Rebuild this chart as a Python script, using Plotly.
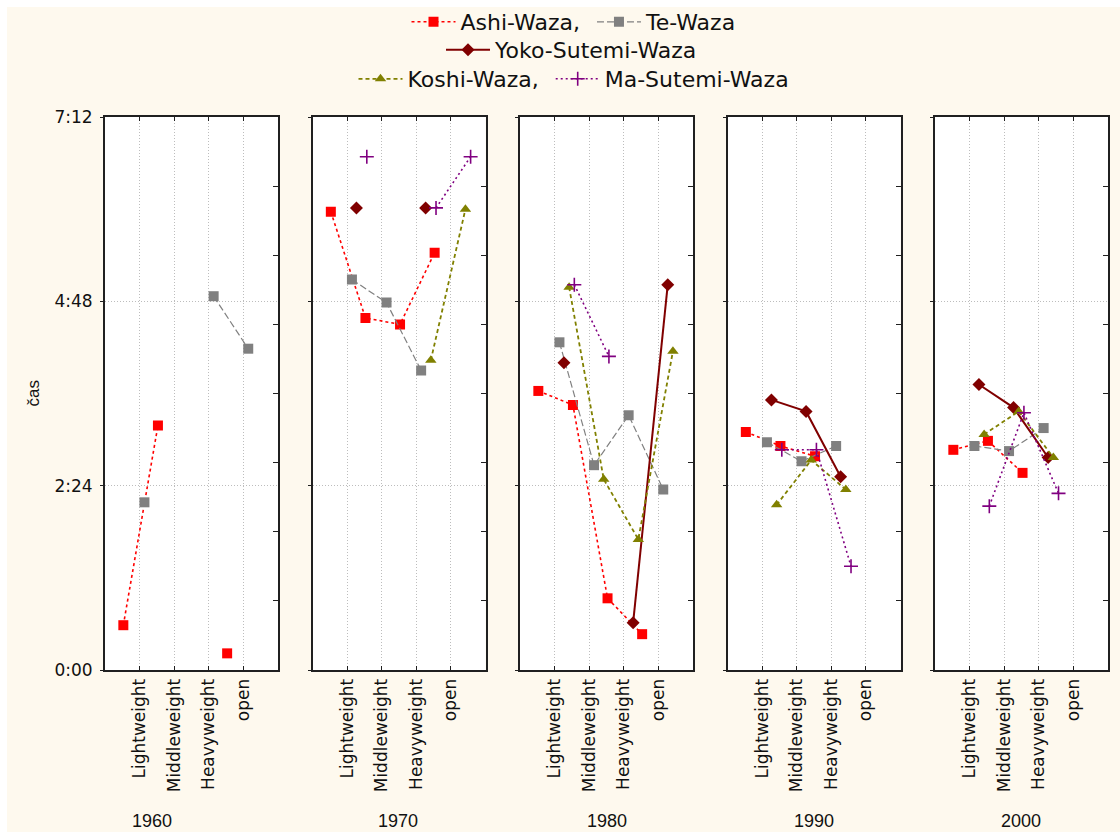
import plotly.graph_objects as go

# ---- data -------------------------------------------------------------
years = ["1960", "1970", "1980", "1990", "2000"]
weight_classes = ["Lightweight", "Middleweight", "Heavyweight", "open"]
time_ticks = [0, 144, 288, 432]
time_labels = ["0:00", "2:24", "4:48", "7:12"]

# mean time of the deciding throw in seconds, one list per decade,
# values in weight-class order; None = no bout decided by that group
ashi_waza = [
    [35, 191, None, 13],
    [358, 275, 270, 326],
    [218, 207, 56, 28],
    [186, 175, 167, None],
    [172, 179, 154, None],
]
te_waza = [
    [131, None, 292, 251],
    [305, 287, 234, None],
    [256, 160, 199, 141],
    [178, 163, 175, None],
    [175, 171, 189, None],
]
yoko_sutemi_waza = [
    [None, None, None, None],
    [361, None, 361, None],
    [240, None, 37, 301],
    [211, 202, 151, None],
    [223, 205, 166, None],
]
koshi_waza = [
    [None, None, None, None],
    [None, None, 242, 360],
    [299, 149, 102, 249],
    [129, 164, 141, None],
    [184, 202, 166, None],
]
ma_sutemi_waza = [
    [None, None, None, None],
    [401, None, 361, 401],
    [301, 245, None, None],
    [172, 172, 81, None],
    [128, 201, 138, None],
]

# ---- styling ----------------------------------------------------------
NB = "\u00a0"  # keeps a little air after the comma entries in the legend
series = [
    ("Ashi-Waza," + NB, ashi_waza,
     dict(color="#FF0000", dash="3px,3px", width=1.6, symbol="square", size=10,
          shift=-0.47, legend="legend")),
    ("Te-Waza", te_waza,
     dict(color="#808080", dash="7px,3px", width=1.2, symbol="square", size=10,
          shift=0.14, legend="legend")),
    ("Yoko-Sutemi-Waza", yoko_sutemi_waza,
     dict(color="#800000", dash="solid", width=2.0, symbol="diamond", size=10,
          shift=0.27, legend="legend2")),
    ("Koshi-Waza," + NB, koshi_waza,
     dict(color="#808000", dash="4px,3px", width=1.8, symbol="triangle-up", size=10,
          shift=0.42, legend="legend3")),
    ("Ma-Sutemi-Waza", ma_sutemi_waza,
     dict(color="#800080", dash="2px,3px", width=1.6, symbol="cross-thin", size=10,
          shift=0.57, legend="legend3")),
]

W, H = 1120, 832
M_L, M_R, M_T, M_B = 105, 12, 117, 162
plot_w = W - M_L - M_R
plot_h = H - M_T - M_B
panel_w = 173
panel_step = 207.5

BG = "#FEF9EE"
FRAME = "#202020"
GRID = "#BDBDBD"
TICK_FONT = dict(family="DejaVu Sans", size=17, color="#111111")

fig = go.Figure()

cat_pos = list(range(len(weight_classes)))

for p, year in enumerate(years):
    xref = "x" if p == 0 else f"x{p + 1}"
    yref = "y" if p == 0 else f"y{p + 1}"
    for name, values, st in series:
        fig.add_trace(go.Scatter(
            x=[c + st["shift"] for c in cat_pos],
            y=values[p],
            name=name,
            mode="lines+markers",
            connectgaps=False,
            line=dict(color=st["color"], dash=st["dash"], width=st["width"]),
            marker=dict(symbol=st["symbol"], size=st["size"], color=st["color"],
                        line=dict(color=st["color"],
                                  width=1.6 if st["symbol"] == "cross-thin" else 0)),
            legend=st["legend"],
            legendgroup=name,
            showlegend=(p == 0),
            xaxis=xref, yaxis=yref,
        ))
    # companion right-hand axis carrying the fine inner ticks
    fig.add_trace(go.Scatter(x=[], y=[], xaxis=xref, yaxis=f"y{p + 6}",
                             showlegend=False, hoverinfo="skip"))

layout = dict(
    width=W, height=H, autosize=False,
    margin=dict(l=M_L, r=M_R, t=M_T, b=M_B, pad=0, autoexpand=False),
    paper_bgcolor=BG, plot_bgcolor="white",
    font=dict(family="Liberation Sans", color="#111111"),
    showlegend=True,
)

for p, year in enumerate(years):
    x0 = p * panel_step / plot_w
    x1 = x0 + panel_w / plot_w
    sx = "" if p == 0 else str(p + 1)
    layout[f"xaxis{sx}"] = dict(
        domain=[x0, x1], range=[-1, 4], anchor=f"y{sx}",
        tickmode="array", tickvals=cat_pos, ticktext=weight_classes,
        tickangle=-90, tickfont=TICK_FONT,
        ticks="inside", ticklen=4, tickcolor=FRAME,
        showline=True, linecolor=FRAME, linewidth=2, mirror="ticks",
        showgrid=True, gridcolor=GRID, griddash="1px,2px", gridwidth=1,
        zeroline=False, fixedrange=True,
    )
    layout[f"yaxis{sx}"] = dict(
        domain=[0, 1], range=[0, 432], anchor=f"x{sx}",
        tickmode="array", tickvals=time_ticks, ticktext=time_labels,
        showticklabels=(p == 0), ticklabelstandoff=4,
        tickfont=dict(family="DejaVu Sans", size=17, color="#111111"),
        ticks="outside", ticklen=3, tickcolor=FRAME,
        showline=True, linecolor=FRAME, linewidth=2, mirror=True,
        showgrid=True, gridcolor=GRID, griddash="1px,2px", gridwidth=1,
        zeroline=False, fixedrange=True,
    )
    layout[f"yaxis{p + 6}"] = dict(
        range=[0, 432], anchor=f"x{sx}", overlaying=f"y{sx}", side="right",
        tickmode="array", tickvals=[54 * k for k in range(1, 8)],
        showticklabels=False, ticks="inside", ticklen=5, tickcolor=FRAME,
        showline=False, showgrid=False, zeroline=False, fixedrange=True,
    )

legend_common = dict(
    orientation="h", xanchor="center", yanchor="middle",
    xref="container", yref="container",
    font=dict(family="DejaVu Sans", size=22, color="#111111"),
    bgcolor="rgba(0,0,0,0)", itemwidth=44, tracegroupgap=0,
)
layout["legend"] = dict(legend_common, x=574 / W, y=1 - 22 / H)
layout["legend2"] = dict(legend_common, x=572 / W, y=1 - 50 / H)
layout["legend3"] = dict(legend_common, x=574 / W, y=1 - 79 / H)

# decade captions below each panel
year_centers = [152, 398, 607, 814, 1021]
annotations = [
    dict(text=y, x=(cx - M_L) / plot_w, y=-(821 - M_T - plot_h) / plot_h,
         xref="paper", yref="paper", xanchor="center", yanchor="middle",
         showarrow=False, font=dict(family="Liberation Sans", size=18, color="#111111"))
    for y, cx in zip(years, year_centers)
]
annotations.append(dict(
    text="čas", textangle=-90, x=(33 - M_L) / plot_w, y=0.5,
    xref="paper", yref="paper", xanchor="center", yanchor="middle",
    showarrow=False, font=dict(family="Liberation Sans", size=17, color="#111111"),
))
layout["annotations"] = annotations

# thin white strip along the top and left edges of the canvas
layout["shapes"] = [
    dict(type="rect", xref="paper", yref="paper",
         x0=-M_L / plot_w, x1=(W - M_L) / plot_w,
         y0=(H - M_B - 7) / plot_h, y1=(H - M_B) / plot_h,
         fillcolor="white", line=dict(width=0), layer="below"),
    dict(type="rect", xref="paper", yref="paper",
         x0=-M_L / plot_w, x1=(7 - M_L) / plot_w,
         y0=-M_B / plot_h, y1=(H - M_B) / plot_h,
         fillcolor="white", line=dict(width=0), layer="below"),
]

fig.update_layout(**layout)
fig.write_html("out.html")
